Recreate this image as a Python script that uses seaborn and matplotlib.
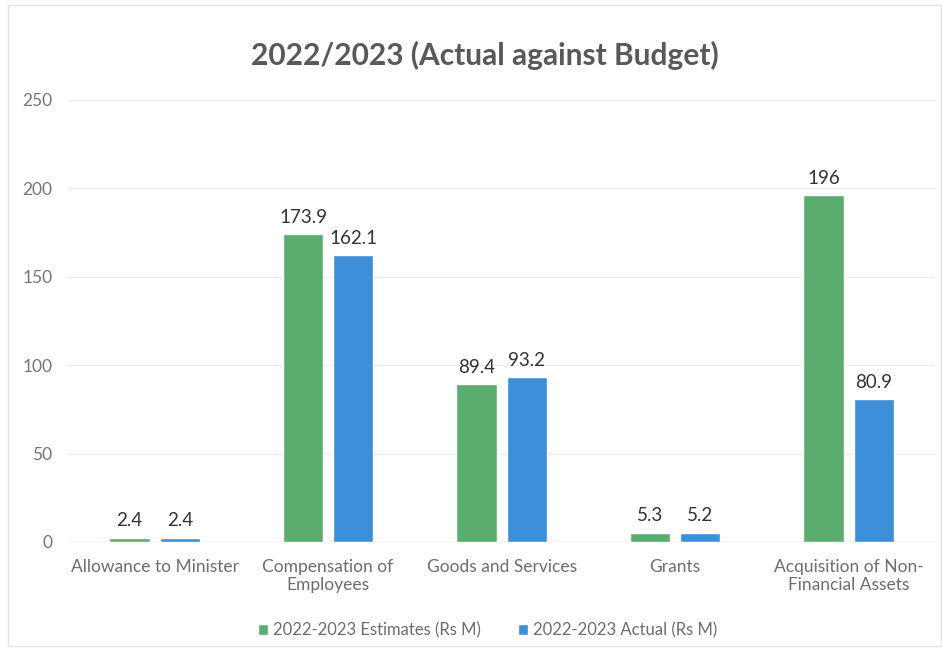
import matplotlib
matplotlib.use("Agg")
import matplotlib.pyplot as plt
import seaborn as sns
import pandas as pd
from matplotlib.patches import Rectangle

categories = ["Allowance to Minister", "Compensation of\nEmployees", "Goods and Services",
              "Grants", "Acquisition of Non-\nFinancial Assets"]
series_names = ["2022-2023 Estimates (Rs M)", "2022-2023 Actual (Rs M)"]
estimates = [2.4, 173.9, 89.4, 5.3, 196]
actual = [2.4, 162.1, 93.2, 5.2, 80.9]
estimate_labels = ["2.4", "173.9", "89.4", "5.3", "196"]
actual_labels = ["2.4", "162.1", "93.2", "5.2", "80.9"]
yticks = [0, 50, 100, 150, 200, 250]

df = pd.DataFrame({
    "Category": categories * 2,
    "Series": [series_names[0]] * len(categories) + [series_names[1]] * len(categories),
    "Value": estimates + actual,
})

sns.set_theme(style="white")
plt.rcParams['font.family'] = ['Lato', 'DejaVu Sans']

fig = plt.figure(figsize=(9.42, 6.49), dpi=100)
ax = fig.add_axes([0.072, 0.165, 0.921, 0.681])

colors = ["#5BAD6F", "#3C8FD8"]
sns.barplot(data=df, x="Category", y="Value", hue="Series", palette=colors,
            width=0.58, gap=0.2, ax=ax, legend=True, saturation=1)

for cont, labs in zip(ax.containers, [estimate_labels, actual_labels]):
    ax.bar_label(cont, labels=labs, padding=6, fontsize=13.5, color="#333333")

ax.set_ylim(0, 250)
ax.set_yticks(yticks)
ax.set_yticklabels([str(t) for t in yticks])
ax.set_xlim(-0.5, 4.5)
ax.set_xlabel("")
ax.set_ylabel("")
ax.yaxis.grid(True, color="#ececec", linewidth=1)
ax.set_axisbelow(True)
for s in ax.spines.values():
    s.set_visible(False)
ax.axhline(0, color="#d9d9d9", linewidth=1, zorder=0)
ax.tick_params(axis="y", labelsize=12.5, colors="#767676", length=0, pad=11)
ax.tick_params(axis="x", labelsize=12.5, colors="#6e6e6e", length=0, pad=12)

ax.legend(loc="center", bbox_to_anchor=(0.484, -0.2), ncol=2, frameon=False,
          fontsize=12, labelcolor="#6e6e6e", handlelength=0.6, handleheight=0.6,
          handletextpad=0.3, columnspacing=2.2)

fig.text(0.515, 0.915, "2022/2023 (Actual against Budget)", ha="center", va="center",
         fontsize=21.5, fontweight="bold", color="#595959")

fig.patches.append(Rectangle((0.009, 0.005), 0.99, 0.988, transform=fig.transFigure,
                             fill=False, edgecolor="#e3e3e3", linewidth=1))

fig.savefig("out.png", dpi=100)
